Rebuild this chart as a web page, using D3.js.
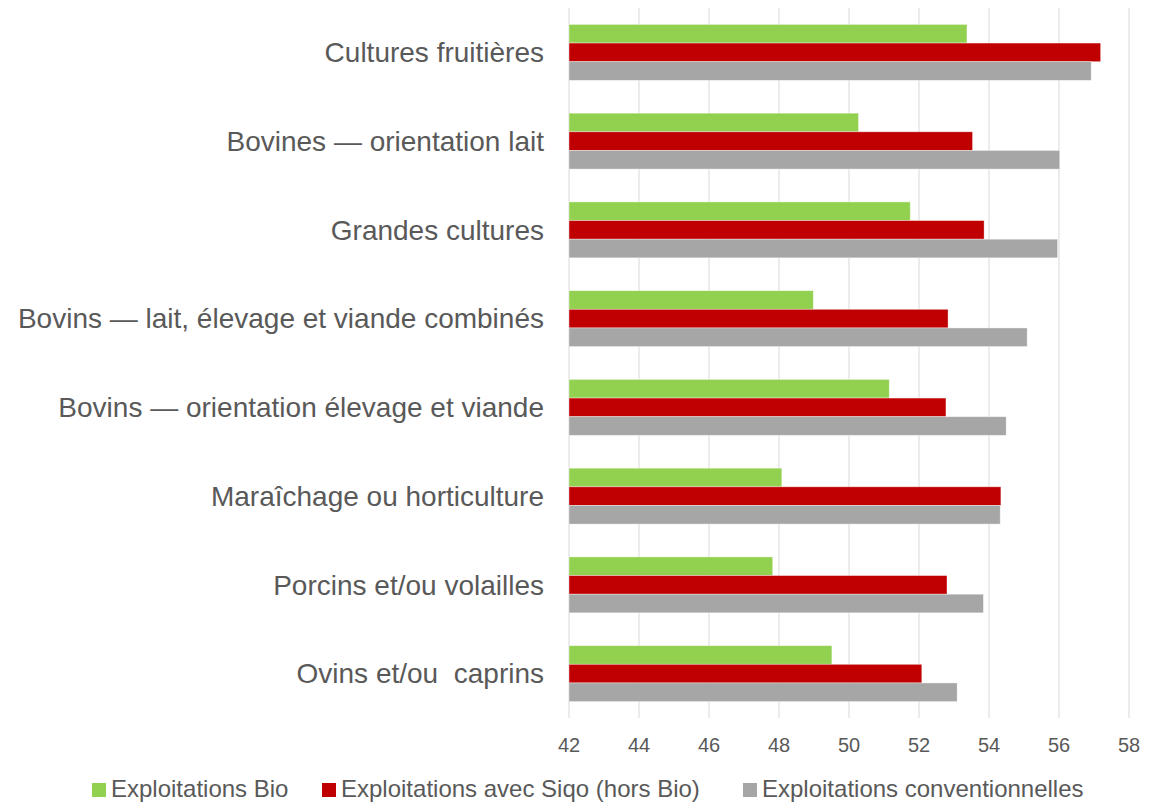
<!DOCTYPE html>
<html>
<head>
<meta charset="utf-8">
<script src="https://cdn.jsdelivr.net/npm/d3@7"></script>
<style>
  body { margin: 0; background: #fff; }
  text { font-family: "Liberation Sans", Arial, sans-serif; fill: #595959; white-space: pre; }
</style>
</head>
<body>
<script>
var categories = ["Cultures fruitières", "Bovines — orientation lait", "Grandes cultures",
  "Bovins — lait, élevage et viande combinés", "Bovins — orientation élevage et viande",
  "Maraîchage ou horticulture", "Porcins et/ou volailles", "Ovins et/ou  caprins"];
var seriesNames = ["Exploitations Bio", "Exploitations avec Siqo (hors Bio)", "Exploitations conventionnelles"];
var bio = [53.37, 50.27, 51.75, 48.98, 51.15, 48.08, 47.82, 49.51];
var siqo = [57.19, 53.53, 53.86, 52.83, 52.77, 54.34, 52.80, 52.08];
var conv = [56.92, 56.02, 55.96, 55.09, 54.49, 54.32, 53.84, 53.09];
var xTicks = [42, 44, 46, 48, 50, 52, 54, 56, 58];
var colors = ["#92d050", "#c00000", "#a6a6a6"];

var width = 1160, height = 803;
var margin = {top: 8, right: 31, bottom: 85, left: 569};

var svg = d3.select("body").append("svg")
    .attr("width", width)
    .attr("height", height);

var x = d3.scaleLinear().domain([42, 58]).range([margin.left, width - margin.right]);
var y = d3.scaleBand().domain(categories).range([margin.top, height - margin.bottom]).paddingInner(0.37).paddingOuter(0.185);
var ySub = d3.scaleBand().domain(d3.range(3)).range([0, y.bandwidth()]);

// gridlines (run a bit past the plot, like tick marks)
svg.append("g")
  .selectAll("line")
  .data(xTicks)
  .enter().append("line")
    .attr("x1", function(d) { return x(d); })
    .attr("x2", function(d) { return x(d); })
    .attr("y1", margin.top)
    .attr("y2", height - margin.bottom)
    .style("stroke", "#d9d9d9")
    .style("stroke-width", 1);

var series = [bio, siqo, conv];

var groups = svg.append("g")
  .selectAll("g")
  .data(categories)
  .enter().append("g")
    .attr("transform", function(d) { return "translate(0," + y(d) + ")"; });

groups.selectAll("rect")
  .data(function(d, i) { return series.map(function(s, k) { return {k: k, v: s[i]}; }); })
  .enter().append("rect")
    .attr("x", x(42))
    .attr("y", function(d) { return ySub(d.k); })
    .attr("width", function(d) { return x(d.v) - x(42); })
    .attr("height", ySub.bandwidth())
    .style("fill", function(d) { return colors[d.k]; })
    .style("stroke", "#fff")
    .style("stroke-opacity", 0.5)
    .style("stroke-width", 0.75);

// category labels
svg.append("g")
  .selectAll("text")
  .data(categories)
  .enter().append("text")
    .attr("x", 544)
    .attr("y", function(d) { return y(d) + y.bandwidth() / 2; })
    .attr("dy", "0.35em")
    .attr("text-anchor", "end")
    .style("font-size", "28px")
    .text(function(d) { return d; });

// x axis tick labels
svg.append("g")
  .selectAll("text")
  .data(xTicks)
  .enter().append("text")
    .attr("x", function(d) { return x(d); })
    .attr("y", 752)
    .attr("text-anchor", "middle")
    .style("font-size", "20px")
    .text(function(d) { return d; });

// legend
var legendX = [92, 322, 743];
var legend = svg.append("g")
  .selectAll("g")
  .data(seriesNames)
  .enter().append("g")
    .attr("transform", function(d, i) { return "translate(" + legendX[i] + ",790)"; });

legend.append("rect")
    .attr("x", 0)
    .attr("y", -7)
    .attr("width", 14)
    .attr("height", 14)
    .style("fill", function(d, i) { return colors[i]; });

legend.append("text")
    .attr("x", 19)
    .attr("y", 7)
    .style("font-size", "24px")
    .text(function(d) { return d; });
</script>
</body>
</html>
